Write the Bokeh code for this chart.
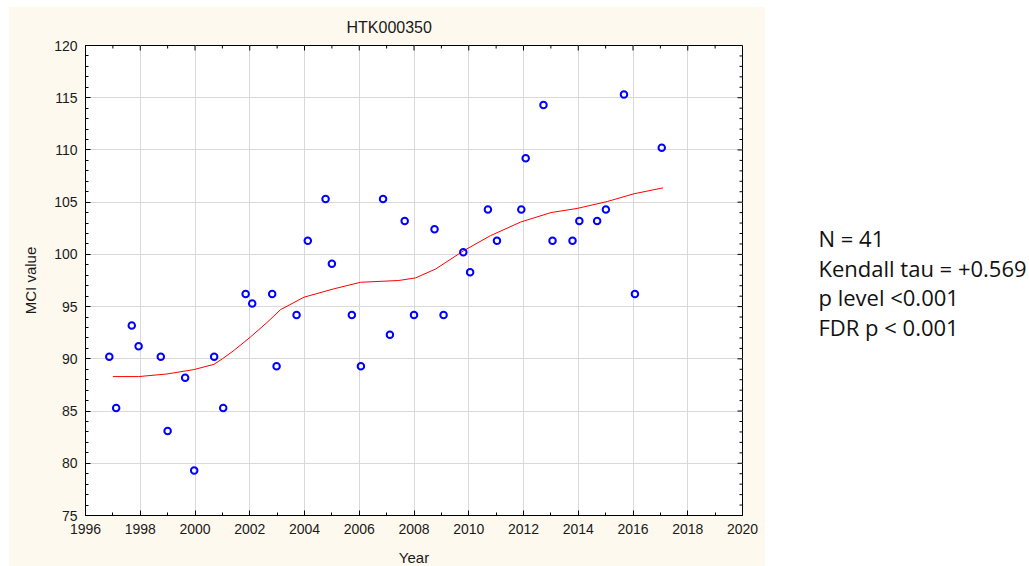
from bokeh.plotting import figure
from bokeh.layouts import row
from bokeh.models import Range1d, FixedTicker
from bokeh.embed import file_html
from bokeh.resources import INLINE
from bokeh.core.properties import value

# ---- data ----
years = [1996.87, 1997.12, 1997.69, 1997.94, 1998.75, 1999.00, 1999.64, 1999.97,
         2000.70, 2001.03, 2001.85, 2002.09, 2002.82, 2002.98, 2003.71, 2004.12,
         2004.77, 2005.00, 2005.73, 2006.06, 2006.87, 2007.12, 2007.66, 2008.00,
         2008.75, 2009.08, 2009.80, 2010.05, 2010.70, 2011.03, 2011.92, 2012.08,
         2012.73, 2013.06, 2013.79, 2014.04, 2014.69, 2015.01, 2015.67, 2016.07,
         2017.05]
mci = [90.2, 85.3, 93.2, 91.2, 90.2, 83.1, 88.2, 79.3,
       90.2, 85.3, 96.2, 95.3, 96.2, 89.3, 94.2, 101.3,
       105.3, 99.1, 94.2, 89.3, 105.3, 92.3, 103.2, 94.2,
       102.4, 94.2, 100.2, 98.3, 104.3, 101.3, 104.3, 109.2,
       114.3, 101.3, 101.3, 103.2, 103.2, 104.3, 115.3, 96.2,
       110.2]

trend_x = [1997.0, 1997.94, 1998.98, 1999.96, 2000.69, 2001.0, 2001.42, 2002.03,
           2002.64, 2003.12, 2003.98, 2005.07, 2006.05, 2007.44, 2008.06, 2008.79,
           2009.82, 2010.8, 2011.9, 2013.0, 2013.96, 2015.06, 2016.03, 2017.1]
trend_y = [88.3, 88.3, 88.55, 88.97, 89.47, 90.0, 90.8, 92.1,
           93.5, 94.7, 95.9, 96.7, 97.33, 97.5, 97.75, 98.6,
           100.36, 101.8, 103.1, 104.0, 104.4, 105.06, 105.8, 106.37]

x_major = list(range(1996, 2021, 2))
x_minor = list(range(1996, 2021, 1))
y_major = list(range(75, 121, 5))
y_minor = list(range(75, 121, 1))

X0, X1 = 1996, 2020
Y0, Y1 = 75, 120

title_text = "HTK000350"
x_label = "Year"
y_label = "MCI value"
stats_lines = ["N = 41", "Kendall tau = +0.569", "p level <0.001", "FDR p < 0.001"]

BEIGE = "#FEF9EE"
GRID = "#D9D9D9"
FONT = "Liberation Sans"
INK = "#1a1a1a"

p = figure(frame_width=657, frame_height=470,
           min_border_left=77, min_border_right=23, min_border_top=39, min_border_bottom=51,
           x_range=Range1d(X0, X1), y_range=Range1d(Y0, Y1),
           output_backend="svg", toolbar_location=None, title=title_text)
p.background_fill_color = "white"
p.border_fill_color = BEIGE
p.outline_line_color = "black"
p.outline_line_width = 1
p.title.align = "left"
p.title.offset = 261
p.title.text_font = FONT
p.title.text_font_size = "16px"
p.title.text_font_style = "normal"
p.title.text_color = INK
p.title.standoff = 20

xt = FixedTicker(ticks=x_major, minor_ticks=x_minor)
yt = FixedTicker(ticks=y_major, minor_ticks=y_minor)

for ax, tk in ((p.xaxis[0], xt), (p.yaxis[0], yt)):
    ax.ticker = tk
    ax.axis_line_color = "black"
    ax.major_tick_in = 5
    ax.major_tick_out = 0
    ax.minor_tick_in = 3
    ax.minor_tick_out = 0
    ax.major_tick_line_color = "black"
    ax.minor_tick_line_color = "black"
    ax.major_label_text_font = FONT
    ax.major_label_text_font_size = "14px"
    ax.major_label_text_color = INK
    ax.axis_label_text_font = FONT
    ax.axis_label_text_font_size = "15px"
    ax.axis_label_text_font_style = "normal"
    ax.axis_label_text_color = INK

p.xaxis.axis_label = x_label
p.yaxis.axis_label = y_label
p.xaxis.major_label_standoff = 8
p.yaxis.major_label_standoff = 8
p.xaxis.axis_label_standoff = 12
p.yaxis.axis_label_standoff = 12

p.xgrid.ticker = xt
p.ygrid.ticker = yt
p.grid.grid_line_color = GRID
p.grid.grid_line_width = 1

# mirrored tick marks on the top and right frame edges
x_minor_only = [v for v in x_minor if v not in x_major]
y_minor_only = [v for v in y_minor if v not in y_major]
p.ray(x=x_major, y=[Y1] * len(x_major), length=5, length_units="screen",
      angle=-90, angle_units="deg", line_color="black", line_width=1)
p.ray(x=x_minor_only, y=[Y1] * len(x_minor_only), length=3, length_units="screen",
      angle=-90, angle_units="deg", line_color="black", line_width=1)
p.ray(x=[X1] * len(y_major), y=y_major, length=5, length_units="screen",
      angle=180, angle_units="deg", line_color="black", line_width=1)
p.ray(x=[X1] * len(y_minor_only), y=y_minor_only, length=3, length_units="screen",
      angle=180, angle_units="deg", line_color="black", line_width=1)

p.line(trend_x, trend_y, line_color="#FF0000", line_width=1)
p.scatter(years, mci, marker="circle", size=6.5, fill_color=None,
          line_color="#0000FF", line_width=2)

# ---- stats text panel (its frame is aligned with the main frame: 470 px tall) ----
t = figure(width=262, height=560, min_border=0, x_axis_type=None, y_axis_type=None,
           x_range=Range1d(0, 262), y_range=Range1d(0, 470),
           output_backend="svg", toolbar_location=None)
t.title.visible = False
t.grid.visible = False
t.outline_line_color = None
t.border_fill_color = "white"
t.background_fill_color = "white"
t.text(x=[53] * 4, y=[277, 247, 217, 187], text=stats_lines,
       text_font=value("Open Sans"), text_font_size="22px",
       text_baseline="middle", text_color="#111111")

layout = row(p, t, margin=(6, 0, 0, 8))
open("out.html", "w").write(file_html(layout, INLINE))
